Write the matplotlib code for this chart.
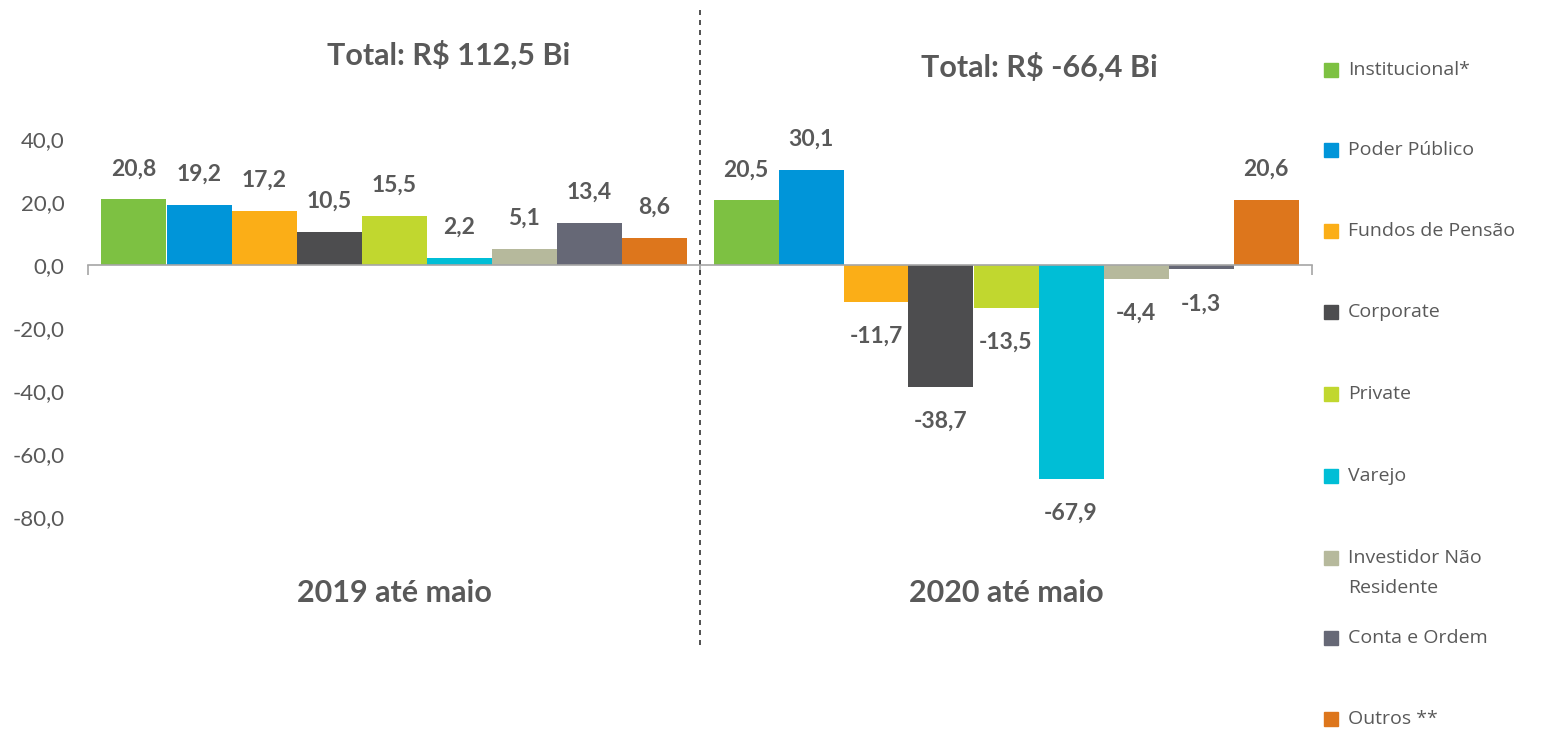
import matplotlib.pyplot as plt
import numpy as np

# data (R$ bilhões)
periods = ['2019 até maio', '2020 até maio']
totals = ['Total: R$ 112,5 Bi', 'Total: R$ -66,4 Bi']
series = ['Institucional*', 'Poder Público', 'Fundos de Pensão', 'Corporate',
          'Private', 'Varejo', 'Investidor Não\nResidente', 'Conta e Ordem', 'Outros **']
vals_2019 = [20.8, 19.2, 17.2, 10.5, 15.5, 2.2, 5.1, 13.4, 8.6]
vals_2020 = [20.5, 30.1, -11.7, -38.7, -13.5, -67.9, -4.4, -1.3, 20.6]
colors = ['#7DC142', '#0095D9', '#FBAE17', '#4D4D4F', '#C1D72F',
          '#00BED6', '#B6B99C', '#666876', '#DD761C']
yticks = [40, 20, 0, -20, -40, -60, -80]

plt.rcParams['font.family'] = ['Lato', 'DejaVu Sans']
grey = '#595959'

W, H = 1545, 730
fig = plt.figure(figsize=(W / 100, H / 100), dpi=100)
# axes spans full height; x from 88px to 1312px
ax = fig.add_axes([88 / W, 0, (1312 - 88) / W, 1])
ppu = 63 / 20.0  # pixels per unit
ax.set_ylim(-(H - 265) / ppu, 265 / ppu)
ax.set_xlim(-0.5, 1.5)

n = len(series)
bw = (585 / 612) / n
x = np.arange(len(periods))
data = np.array([vals_2019, vals_2020])
for i in range(n):
    xs = x - 585 / 612 / 2 + bw * (i + 0.5)
    ax.bar(xs, data[:, i], width=bw, color=colors[i], label=series[i])
    for xi, v in zip(xs, data[:, i]):
        lbl = f'{v:.1f}'.replace('.', ',')
        off = 22 if v >= 0 else -25
        ax.annotate(lbl, (xi, v), xytext=(0, off), textcoords='offset points',
                    ha='center', va='center', fontsize=16.5, fontweight='bold', color=grey)

# axis styling
for s in ['top', 'right', 'left']:
    ax.spines[s].set_visible(False)
ax.spines['bottom'].set_position(('data', 0))
ax.spines['bottom'].set_color('#A6A6A6')
ax.spines['bottom'].set_linewidth(1.2)
ax.set_xticks([-0.5, 0.5, 1.5])
ax.set_xticklabels([])
ax.tick_params(axis='x', length=7, color='#A6A6A6', width=1.2)
ax.set_yticks(yticks)
ax.set_yticklabels([f'{t:.1f}'.replace('.', ',') for t in yticks], fontsize=16, color=grey)
ax.tick_params(axis='y', length=0, pad=17)

# divider
ax.plot([0.5, 0.5], [(265 - 10) / ppu, -(650 - 265) / ppu], ls=(0, (3, 3)),
        color='#333333', lw=1.2, clip_on=False)

# titles and period labels
for xi, t, ypx in zip(x, totals, [55, 67]):
    ax.text(xi + [0.09, 0.055][xi], (265 - ypx) / ppu, t, ha='center', va='center',
            fontsize=22, fontweight='bold', color=grey)
for xi, p in zip(x, periods):
    ax.text(xi, -(593 - 265) / ppu, p, ha='center', va='center',
            fontsize=22, fontweight='bold', color=grey)

# legend
ys = [70, 150, 231, 312, 394, 476, 558, 638, 719]
for c, s, ypx in zip(colors, series, ys):
    fig.patches.append(plt.Rectangle((1324 / W, 1 - (ypx + 7) / H), 14 / W, 14 / H,
                                     transform=fig.transFigure, color=c))
    if '\n' in s:
        fig.text(1348 / W, 1 - (ypx + 15) / H, s, ha='left', va='center',
                 fontsize=14, color=grey, linespacing=1.8, family='Open Sans')
    else:
        fig.text(1348 / W, 1 - ypx / H, s, ha='left', va='center',
                 fontsize=14, color=grey, family='Open Sans')

fig.savefig('out.png', dpi=100)
